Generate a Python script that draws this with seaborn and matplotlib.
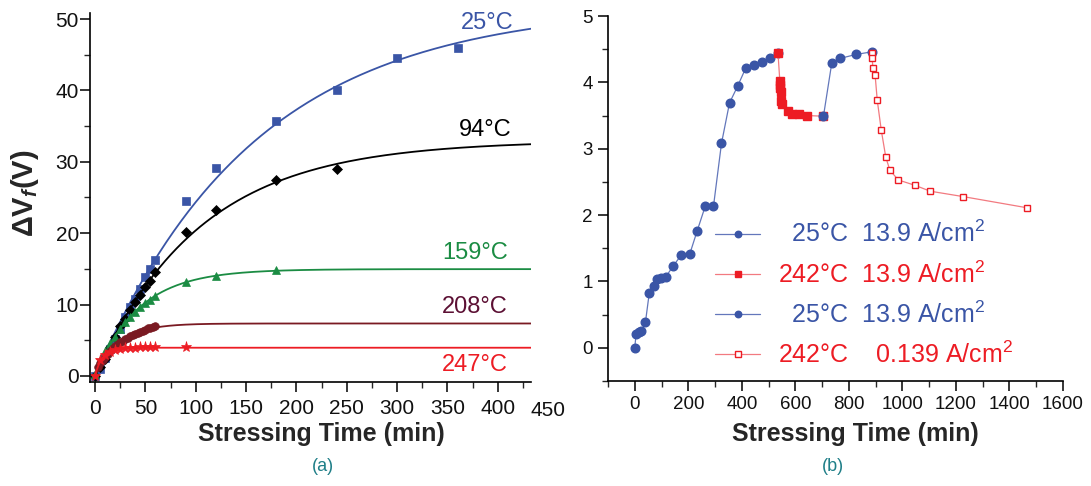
import numpy as np
import pandas as pd
import seaborn as sns
import matplotlib.pyplot as plt

# ---- panel (a): delta Vf vs stressing time, five temperatures ----
t_25 = [0, 5, 10, 15, 20, 25, 30, 35, 40, 45, 50, 55, 60, 90, 120, 180, 240, 300, 360]
v_25 = [0, 1.0, 2.5, 3.8, 5.2, 6.6, 8.2, 9.6, 10.8, 12.2, 13.8, 15.0, 16.3, 24.5, 29.2, 35.7, 40.0, 44.6, 46.0]

t_94 = [0, 5, 10, 15, 20, 25, 30, 35, 40, 45, 50, 55, 60, 90, 120, 180, 240]
v_94 = [0, 1.2, 2.4, 4.0, 5.5, 7.0, 8.0, 9.2, 10.4, 11.4, 12.4, 13.3, 14.5, 20.1, 23.3, 27.4, 29.0]

t_159 = [0, 5, 10, 15, 20, 25, 30, 35, 40, 45, 50, 55, 60, 90, 120, 180]
v_159 = [0.3, 2.2, 3.5, 4.6, 5.5, 6.6, 7.5, 8.3, 9.0, 9.6, 10.2, 10.7, 11.2, 13.1, 14.0, 14.9]

t_208 = [2.5, 5, 7.5, 10, 12.5, 15, 17.5, 20, 22.5, 25, 27.5, 30, 32.5, 35, 37.5, 40,
         42.5, 45, 47.5, 50, 52.5, 55, 57.5, 60]
v_208 = [1.2, 1.8, 2.3, 2.7, 3.1, 3.5, 3.85, 4.15, 4.45, 4.7, 4.95, 5.15, 5.35, 5.55, 5.75, 5.9,
         6.05, 6.2, 6.35, 6.5, 6.65, 6.75, 6.9, 7.0]

t_247 = [0, 5, 10, 15, 20, 25, 30, 35, 40, 45, 50, 55, 60, 90]
v_247 = [0, 2.2, 2.9, 3.3, 3.6, 3.75, 3.85, 3.9, 3.95, 4.0, 4.0, 4.0, 4.0, 4.05]

# ---- panel (b): sequential stressing segments ----
t_s1 = [0, 5, 15, 25, 40, 54, 70, 83, 98, 116, 143, 174, 206, 233, 263, 294, 324, 354,
        384, 414, 445, 475, 505, 535]
v_s1 = [0, 0.21, 0.24, 0.25, 0.39, 0.82, 0.93, 1.04, 1.05, 1.07, 1.23, 1.40, 1.42, 1.76,
        2.13, 2.13, 3.08, 3.69, 3.94, 4.21, 4.26, 4.31, 4.37, 4.45]

t_s2 = [535, 542, 543, 544, 545, 547, 551, 571, 586, 614, 644, 705]
v_s2 = [4.45, 4.02, 3.96, 3.91, 3.86, 3.72, 3.68, 3.57, 3.52, 3.52, 3.50, 3.49]

t_s3 = [705, 736, 766, 826, 885]
v_s3 = [3.49, 4.29, 4.36, 4.42, 4.46]

t_s4 = [885, 887, 887, 890, 898, 906, 921, 938, 953, 984, 1046, 1104, 1225, 1466]
v_s4 = [4.45, 4.40, 4.32, 4.21, 4.11, 3.73, 3.28, 2.87, 2.68, 2.53, 2.45, 2.36, 2.28, 2.11]

seg_labels = ["  25°C  13.9 A/cm$^2$", "242°C  13.9 A/cm$^2$",
              "  25°C  13.9 A/cm$^2$", "242°C    0.139 A/cm$^2$"]

BLUE = "#3a55a6"
BLUE_LINE = "#6377bb"
RED = "#ed1c24"
RED_LINE = "#f27a80"
GREEN = "#1b8c43"
MAROON = "#7a1a22"
MAROON_TXT = "#5c1034"
TEAL = "#1f7f88"


def exp_fit(t, v):
    # least squares fit of v = A * (1 - exp(-t / tau))
    t = np.asarray(t, float)
    v = np.asarray(v, float)
    best = None
    for tau in np.linspace(5, 400, 1600):
        b = 1 - np.exp(-t / tau)
        a = b @ v / (b @ b)
        err = ((a * b - v) ** 2).sum()
        if best is None or err < best[0]:
            best = (err, a, tau)
    return best[1], best[2]


sns.set_style("ticks")
plt.rcParams['font.family'] = ['Liberation Sans', 'DejaVu Sans']
plt.rcParams['mathtext.fontset'] = 'custom'
plt.rcParams['mathtext.rm'] = 'Liberation Sans'
plt.rcParams['mathtext.it'] = 'Liberation Sans:italic:bold'
plt.rcParams['mathtext.bf'] = 'Liberation Sans:bold'

fig = plt.figure(figsize=(10.91, 4.86), dpi=100)
ax1 = fig.add_axes([90 / 1091, 104 / 486, 441 / 1091, 369 / 486])
ax2 = fig.add_axes([608 / 1091, 105 / 486, 455 / 1091, 365 / 486])

# ---------------- panel (a) ----------------
series_a = [
    (t_25, v_25, BLUE, 's', 5.2, "25°C", BLUE, 416, 49.5),
    (t_94, v_94, 'black', 'D', 5.0, "94°C", 'black', 414, 34.5),
    (t_159, v_159, GREEN, '^', 6.0, "159°C", GREEN, 410, 17.2),
    (t_208, v_208, MAROON, 'o', 5.5, "208°C", MAROON_TXT, 410, 9.7),
    (t_247, v_247, RED, '*', 8.0, "247°C", RED, 410, 1.5),
]
t_curve = np.linspace(0, 433, 300)
for t, v, col, mk, ms, lab, tcol, lx, ly in series_a:
    a, tau = exp_fit(t, v)
    fit = pd.DataFrame({"t": t_curve, "v": a * (1 - np.exp(-t_curve / tau))})
    sns.lineplot(data=fit, x="t", y="v", ax=ax1, color=col, linewidth=1.3, sort=False)
    pts = pd.DataFrame({"t": t, "v": v})
    sns.lineplot(data=pts, x="t", y="v", ax=ax1, color=col, linestyle='none', marker=mk,
                 markersize=ms, markeredgecolor=col, markeredgewidth=0.5, sort=False)
    ax1.text(lx, ly, lab, color=tcol, fontsize=17, ha='right', va='center')

ax1.set_xlim(-5, 433)
ax1.set_ylim(-0.85, 50.85)
ax1.set_xticks(range(0, 450, 50))
ax1.set_xticks(range(25, 450, 50), minor=True)
ax1.set_yticks(range(0, 51, 10))
ax1.set_yticks(range(5, 51, 10), minor=True)
ax1.tick_params(axis='both', which='major', direction='out', length=7, width=1.1,
                labelsize=15, color='black', labelcolor='#111111')
ax1.tick_params(axis='y', which='major', pad=1)
ax1.tick_params(axis='x', which='major', pad=5)
ax1.tick_params(axis='both', which='minor', direction='out', length=4, width=1.0)
# the 450 label sits just past the end of the axis line
ax1.text(450, -0.052, "450", transform=ax1.get_xaxis_transform(), ha='center', va='top',
         fontsize=15, color='#111111', clip_on=False)
ax1.set_xlabel("Stressing Time (min)", fontsize=18, fontweight='bold')
ax1.xaxis.set_label_coords(0.524, -0.141)
ax1.xaxis.label.set_va('center')
ax1.set_ylabel("ΔV$_{f}$(V)", fontsize=21, fontweight='bold')
ax1.yaxis.set_label_coords(-0.147, 0.512)
ax1.yaxis.label.set_va('center')

# ---------------- panel (b) ----------------
segments = [
    (t_s1, v_s1, BLUE_LINE, 'o', BLUE, BLUE, 6.2),
    (t_s2, v_s2, RED_LINE, 's', RED, RED, 5.5),
    (t_s3, v_s3, BLUE_LINE, 'o', BLUE, BLUE, 6.2),
    (t_s4, v_s4, RED_LINE, 's', 'white', RED, 5.0),
]
for (t, v, lcol, mk, mfc, mec, ms), lab in zip(segments, seg_labels):
    seg = pd.DataFrame({"t": t, "v": v})
    sns.lineplot(data=seg, x="t", y="v", ax=ax2, color=lcol, linewidth=0.9, marker=mk,
                 markersize=ms, markerfacecolor=mfc, markeredgecolor=mec,
                 markeredgewidth=1.0, sort=False, label=lab)
handles = ax2.get_lines()[:4]
leg = ax2.legend(handles, seg_labels, frameon=False, fontsize=18, loc='upper left',
                 bbox_to_anchor=(715 / 1091, 1 - 221 / 486), bbox_transform=fig.transFigure,
                 borderpad=0, borderaxespad=0, handlelength=1.8, handletextpad=0.7,
                 labelspacing=0.55, markerscale=0.75)
for txt, col in zip(leg.get_texts(), [BLUE, RED, BLUE, RED]):
    txt.set_color(col)

ax2.set_xlim(-100, 1600)
ax2.set_ylim(-0.5, 5)
ax2.set_xticks(range(0, 1601, 200))
ax2.set_xticks(range(-100, 1600, 200), minor=True)
ax2.set_yticks(range(0, 6))
ax2.set_yticks([-0.5, 0.5, 1.5, 2.5, 3.5, 4.5], minor=True)
ax2.tick_params(axis='both', which='major', direction='out', length=7, width=1.1,
                labelsize=13.5, pad=4, color='black', labelcolor='#111111')
ax2.tick_params(axis='both', which='minor', direction='out', length=4, width=1.0)
ax2.set_xlabel("Stressing Time (min)", fontsize=18, fontweight='bold')
ax2.xaxis.set_label_coords(0.543, -0.145)
ax2.xaxis.label.set_va('center')
ax2.set_ylabel("")

for ax in (ax1, ax2):
    sns.despine(ax=ax)
    for sp in ('left', 'bottom'):
        ax.spines[sp].set_linewidth(1.2)
        ax.spines[sp].set_color('black')

fig.text(323 / 1091, 1 - 466 / 486, "(a)", color=TEAL, fontsize=13, ha='center', va='center')
fig.text(833 / 1091, 1 - 466 / 486, "(b)", color=TEAL, fontsize=13, ha='center', va='center')

fig.savefig("out.png", dpi=100)
